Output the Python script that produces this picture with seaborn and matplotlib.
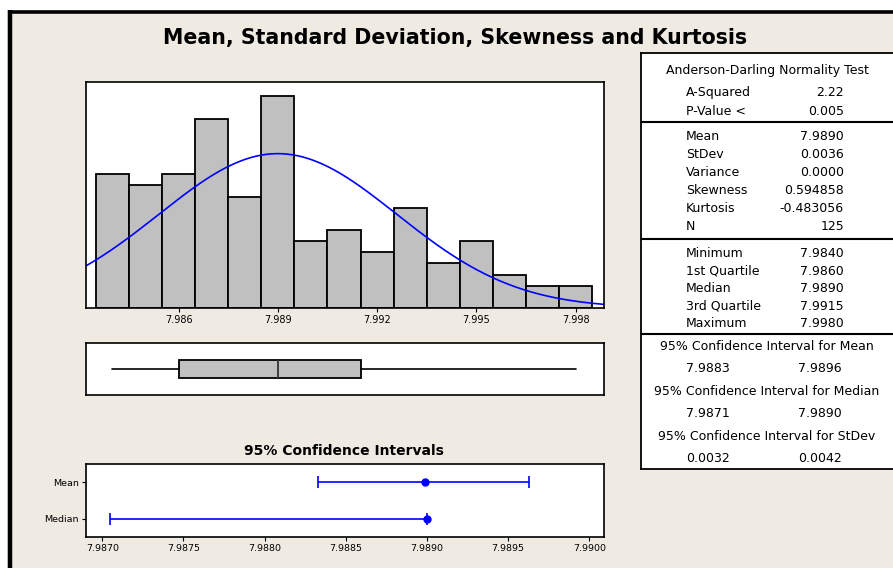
import numpy as np
import pandas as pd
import matplotlib
matplotlib.use("Agg")
import matplotlib.pyplot as plt
from matplotlib.patches import Rectangle
from matplotlib.lines import Line2D
import seaborn as sns

# histogram data (bin centres and counts)
bin_centers = [7.984, 7.985, 7.986, 7.987, 7.988, 7.989, 7.990, 7.991,
               7.992, 7.993, 7.994, 7.995, 7.996, 7.997, 7.998]
bin_counts = [12, 11, 12, 17, 10, 19, 6, 7, 5, 9, 4, 6, 3, 2, 2]
hist_ticks = [7.986, 7.989, 7.992, 7.995, 7.998]

# summary statistics
n_obs = 125
mean_val = 7.9890
sd_val = 0.0036
box_stats = {"min": 7.9840, "q1": 7.9860, "median": 7.9890, "q3": 7.9915, "max": 7.9980}

# confidence intervals
ci_labels = ["Mean", "Median"]
ci_center = [7.98899, 7.98900]
ci_low = [7.98833, 7.98705]
ci_high = [7.98963, 7.98900]
ci_ticks = [7.9870, 7.9875, 7.9880, 7.9885, 7.9890, 7.9895, 7.9900]

# table text
ad_labels = ["A-Squared", "P-Value <"]
ad_values = ["2.22", "0.005"]
desc_labels = ["Mean", "StDev", "Variance", "Skewness", "Kurtosis", "N"]
desc_values = ["7.9890", "0.0036", "0.0000", "0.594858", "-0.483056", "125"]
quant_labels = ["Minimum", "1st Quartile", "Median", "3rd Quartile", "Maximum"]
quant_values = ["7.9840", "7.9860", "7.9890", "7.9915", "7.9980"]
ci_titles = ["95% Confidence Interval for Mean",
             "95% Confidence Interval for Median",
             "95% Confidence Interval for StDev"]
ci_table = [("7.9883", "7.9896"), ("7.9871", "7.9890"), ("0.0032", "0.0042")]

BG = "#EFEBE2"
W, H = 893, 568

sns.set_style("white")
plt.rcParams["font.family"] = ["DejaVu Sans"]
plt.rcParams.update({"text.color": "black", "xtick.color": "black",
                     "ytick.color": "black", "axes.labelcolor": "black"})

fig = plt.figure(figsize=(W / 100, H / 100), dpi=100, facecolor=BG)


def px_axes(x0, y0, x1, y1):
    # axes placed by pixel box (top-left origin)
    return fig.add_axes([x0 / W, 1 - y1 / H, (x1 - x0) / W, (y1 - y0) / H])


def style_spines(ax):
    for s in ax.spines.values():
        s.set_visible(True)
        s.set_color("black")
        s.set_linewidth(1.2)


# frame
fig.add_artist(Rectangle((0, 1 - 10 / H), 1, 10 / H, transform=fig.transFigure,
                         facecolor="white", edgecolor="none"))
fig.add_artist(Rectangle((0, 0), 7 / W, 1, transform=fig.transFigure,
                         facecolor="white", edgecolor="none"))
fig.add_artist(Line2D([7.5 / W, 1], [1 - 12 / H, 1 - 12 / H], transform=fig.transFigure,
                      color="black", lw=2.6, solid_capstyle="butt"))
fig.add_artist(Line2D([9.5 / W, 9.5 / W], [0, 1 - 10.2 / H], transform=fig.transFigure,
                      color="black", lw=3.2, solid_capstyle="butt"))

fig.text(455.5 / W, 1 - 38 / H, "Mean, Standard Deviation, Skewness and Kurtosis",
         ha="center", va="center", fontsize=14.8, fontweight="bold")

# histogram with fitted normal curve
xlim_hist = (7.98320, 7.99886)
ax_h = px_axes(86, 82, 604, 308)
hist_df = pd.DataFrame({"value": bin_centers, "count": bin_counts})
sns.histplot(data=hist_df, x="value", weights="count", binwidth=0.001,
             binrange=(bin_centers[0] - 0.0005, bin_centers[-1] + 0.0005),
             color="#C0C0C0", edgecolor="black", linewidth=1.3, alpha=1, ax=ax_h)
xs = np.linspace(xlim_hist[0], xlim_hist[1], 400)
ys = n_obs * 0.001 * np.exp(-0.5 * ((xs - mean_val) / sd_val) ** 2) / (sd_val * np.sqrt(2 * np.pi))
sns.lineplot(x=xs, y=ys, color="#0000FF", lw=1.2, ax=ax_h)
ax_h.set_xlim(*xlim_hist)
ax_h.set_ylim(0, 20.28)
ax_h.set_facecolor("white")
ax_h.set_yticks([])
ax_h.set_xticks(hist_ticks)
ax_h.set_xticklabels([f"{t:.3f}" for t in hist_ticks])
ax_h.tick_params(axis="x", direction="out", length=3, width=0.8, labelsize=7, pad=2, bottom=True)
ax_h.set_xlabel("")
ax_h.set_ylabel("")
style_spines(ax_h)

# box plot
ax_b = px_axes(86, 343, 604, 394.5)
ax_b.bxp([{"whislo": box_stats["min"], "q1": box_stats["q1"], "med": box_stats["median"],
           "q3": box_stats["q3"], "whishi": box_stats["max"], "fliers": []}],
         positions=[0], widths=0.7, orientation="horizontal", patch_artist=True,
         showcaps=False, showfliers=False,
         boxprops=dict(facecolor="#C0C0C0", edgecolor="black", linewidth=1.3),
         medianprops=dict(color="#333333", linewidth=1.3),
         whiskerprops=dict(color="black", linewidth=1.2))
ax_b.set_xlim(*xlim_hist)
ax_b.set_ylim(-1, 1)
ax_b.set_xticks([])
ax_b.set_yticks([])
ax_b.set_facecolor("white")
style_spines(ax_b)

# confidence interval plot
ax_c = px_axes(86, 464, 604, 537)
ypos = np.arange(len(ci_labels))
xerr = [np.array(ci_center) - np.array(ci_low), np.array(ci_high) - np.array(ci_center)]
ax_c.errorbar(ci_center, ypos, xerr=xerr, fmt="o", color="#0000FF", ecolor="#0000FF",
              capsize=4, ms=5, lw=1.2, capthick=1.2)
ax_c.set_xlim(7.98690, 7.99009)
ax_c.set_ylim(1.5, -0.5)
ax_c.set_yticks(ypos)
ax_c.set_yticklabels(ci_labels)
ax_c.set_xticks(ci_ticks)
ax_c.set_xticklabels([f"{t:.4f}" for t in ci_ticks])
ax_c.tick_params(axis="both", direction="out", length=3, width=0.8, labelsize=6.8, pad=2,
                 bottom=True, left=True)
ax_c.set_facecolor("white")
style_spines(ax_c)
fig.text(344 / W, 1 - 451 / H, "95% Confidence Intervals", ha="center", va="center",
         fontsize=10, fontweight="bold")

# statistics table
ax_t = px_axes(640.5, 53, 895, 469)
ax_t.set_xlim(640.5, 895)
ax_t.set_ylim(469, 53)
ax_t.set_facecolor("white")
ax_t.set_xticks([])
ax_t.set_yticks([])
for s in ax_t.spines.values():
    s.set_color("black")
    s.set_linewidth(1.3)
for yl in (122, 239.5, 334):
    ax_t.axhline(yl, color="black", lw=1.5)

fs = 9
lab_x, val_x = 686, 844
ax_t.text(767, 71, "Anderson-Darling Normality Test", ha="center", va="center", fontsize=fs)
for i, (lab, val) in enumerate(zip(ad_labels, ad_values)):
    y = 92.5 + i * 19
    ax_t.text(lab_x, y, lab, ha="left", va="center", fontsize=fs)
    ax_t.text(val_x, y, val, ha="right", va="center", fontsize=fs)
for i, (lab, val) in enumerate(zip(desc_labels, desc_values)):
    y = 137 + i * 18
    ax_t.text(lab_x, y, lab, ha="left", va="center", fontsize=fs)
    ax_t.text(val_x, y, val, ha="right", va="center", fontsize=fs)
for i, (lab, val) in enumerate(zip(quant_labels, quant_values)):
    y = 254 + i * 17.5
    ax_t.text(lab_x, y, lab, ha="left", va="center", fontsize=fs)
    ax_t.text(val_x, y, val, ha="right", va="center", fontsize=fs)
for i, (title, (lo, hi)) in enumerate(zip(ci_titles, ci_table)):
    y = 346.5 + i * 45
    ax_t.text(767, y, title, ha="center", va="center", fontsize=fs)
    ax_t.text(708, y + 22, lo, ha="center", va="center", fontsize=fs)
    ax_t.text(820, y + 22, hi, ha="center", va="center", fontsize=fs)

fig.savefig("out.png", dpi=100, facecolor=BG)
